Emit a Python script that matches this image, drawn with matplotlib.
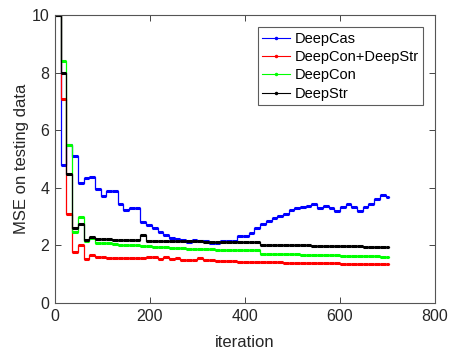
import numpy as np
import matplotlib
matplotlib.use("Agg")
import matplotlib.pyplot as plt
from matplotlib.lines import Line2D

plt.rcParams['font.family'] = ['Liberation Sans', 'DejaVu Sans']

# iteration at which each value starts (one step every 12 iterations)
iterations = np.arange(0, 701, 12)

deepcas = [10, 4.8, 5.5, 5.1, 4.16, 4.33, 4.38, 3.95, 3.73, 3.88,
           3.9, 3.45, 3.22, 3.3, 3.3, 2.8, 2.7, 2.6, 2.48, 2.35,
           2.25, 2.22, 2.18, 2.13, 2.2, 2.16, 2.16, 2.07, 2.07, 2.17,
           2.17, 2.16, 2.33, 2.33, 2.44, 2.59, 2.73, 2.85, 2.94, 3.02,
           3.11, 3.23, 3.29, 3.34, 3.37, 3.44, 3.29, 3.37, 3.29, 3.2,
           3.32, 3.44, 3.32, 3.2, 3.32, 3.44, 3.6, 3.75, 3.7]

deepcon_str = [10, 7.1, 3.1, 1.78, 2.01, 1.52, 1.66, 1.6, 1.59, 1.58,
               1.57, 1.56, 1.58, 1.55, 1.58, 1.56, 1.6, 1.6, 1.52, 1.6,
               1.52, 1.55, 1.48, 1.5, 1.5, 1.55, 1.5, 1.48, 1.47, 1.46,
               1.46, 1.45, 1.44, 1.43, 1.43, 1.42, 1.42, 1.41, 1.41, 1.41,
               1.4, 1.4, 1.4, 1.39, 1.39, 1.39, 1.38, 1.38, 1.39, 1.38,
               1.37, 1.37, 1.37, 1.36, 1.36, 1.36, 1.35, 1.35, 1.35]

deepcon = [10, 8.4, 5.5, 2.48, 3.0, 2.15, 2.25, 2.1, 2.1, 2.08,
           2.05, 2.03, 2.03, 2.02, 2.0, 1.98, 1.98, 1.96, 1.95, 1.94,
           1.93, 1.92, 1.9, 1.89, 1.88, 1.88, 1.87, 1.87, 1.86, 1.86,
           1.86, 1.85, 1.85, 1.85, 1.84, 1.84, 1.72, 1.71, 1.71, 1.7,
           1.7, 1.69, 1.69, 1.68, 1.68, 1.67, 1.68, 1.67, 1.66, 1.66,
           1.65, 1.64, 1.63, 1.64, 1.63, 1.62, 1.62, 1.61, 1.61]

deepstr = [10, 8.0, 4.5, 2.59, 2.73, 2.19, 2.3, 2.24, 2.22, 2.21,
           2.2, 2.2, 2.2, 2.19, 2.2, 2.38, 2.17, 2.16, 2.16, 2.15,
           2.15, 2.15, 2.14, 2.14, 2.14, 2.14, 2.13, 2.13, 2.13, 2.13,
           2.13, 2.12, 2.12, 2.12, 2.12, 2.12, 2.02, 2.02, 2.01, 2.01,
           2.01, 2.0, 2.0, 2.0, 2.0, 1.99, 1.99, 1.99, 1.98, 1.98,
           1.98, 1.97, 1.97, 1.97, 1.96, 1.96, 1.96, 1.95, 1.95]

names = ["DeepCas", "DeepCon+DeepStr", "DeepCon", "DeepStr"]
colors = ["#0000ff", "#ff0000", "#00ff00", "#000000"]
series = [deepcas, deepcon_str, deepcon, deepstr]

fig = plt.figure(figsize=(4.49, 3.52), dpi=100)
ax = fig.add_axes([0.1225, 0.139, 0.8463, 0.818])

end_x = 704
for vals, col in zip(series, colors):
    vals = np.asarray(vals)
    xs = np.append(iterations, end_x)
    ys = np.append(vals, vals[-1])
    ax.step(xs, ys, where='post', color=col, lw=0.9)
    ax.hlines(vals, xs[:-1], xs[1:], colors=col, lw=2.2)

ax.set_xlim(0, 800)
ax.set_ylim(0, 10)
ax.set_xticks([0, 200, 400, 600, 800])
ax.set_yticks([0, 2, 4, 6, 8, 10])
ax.tick_params(direction='in', top=True, right=True, length=4, width=0.6,
               labelsize=11.5, colors='#262626', pad=4)
for sp in ax.spines.values():
    sp.set_color('#555555')
    sp.set_linewidth(0.8)
ax.set_xlabel("iteration", fontsize=12, color='#262626', labelpad=8)
ax.set_ylabel("MSE on testing data", fontsize=12, color='#262626', labelpad=2)

handles = [Line2D([0], [0], color=c, lw=0.8, marker='.', markersize=3) for c in colors]
leg = ax.legend(handles, names, loc='upper right', bbox_to_anchor=(0.968, 0.958),
                fontsize=10.5, frameon=True, fancybox=False, handlelength=1.9,
                handletextpad=0.3, labelspacing=0.3, borderpad=0.3, borderaxespad=0)
leg.get_frame().set_edgecolor('#333333')
leg.get_frame().set_linewidth(0.8)

fig.savefig("out.png", dpi=100)
